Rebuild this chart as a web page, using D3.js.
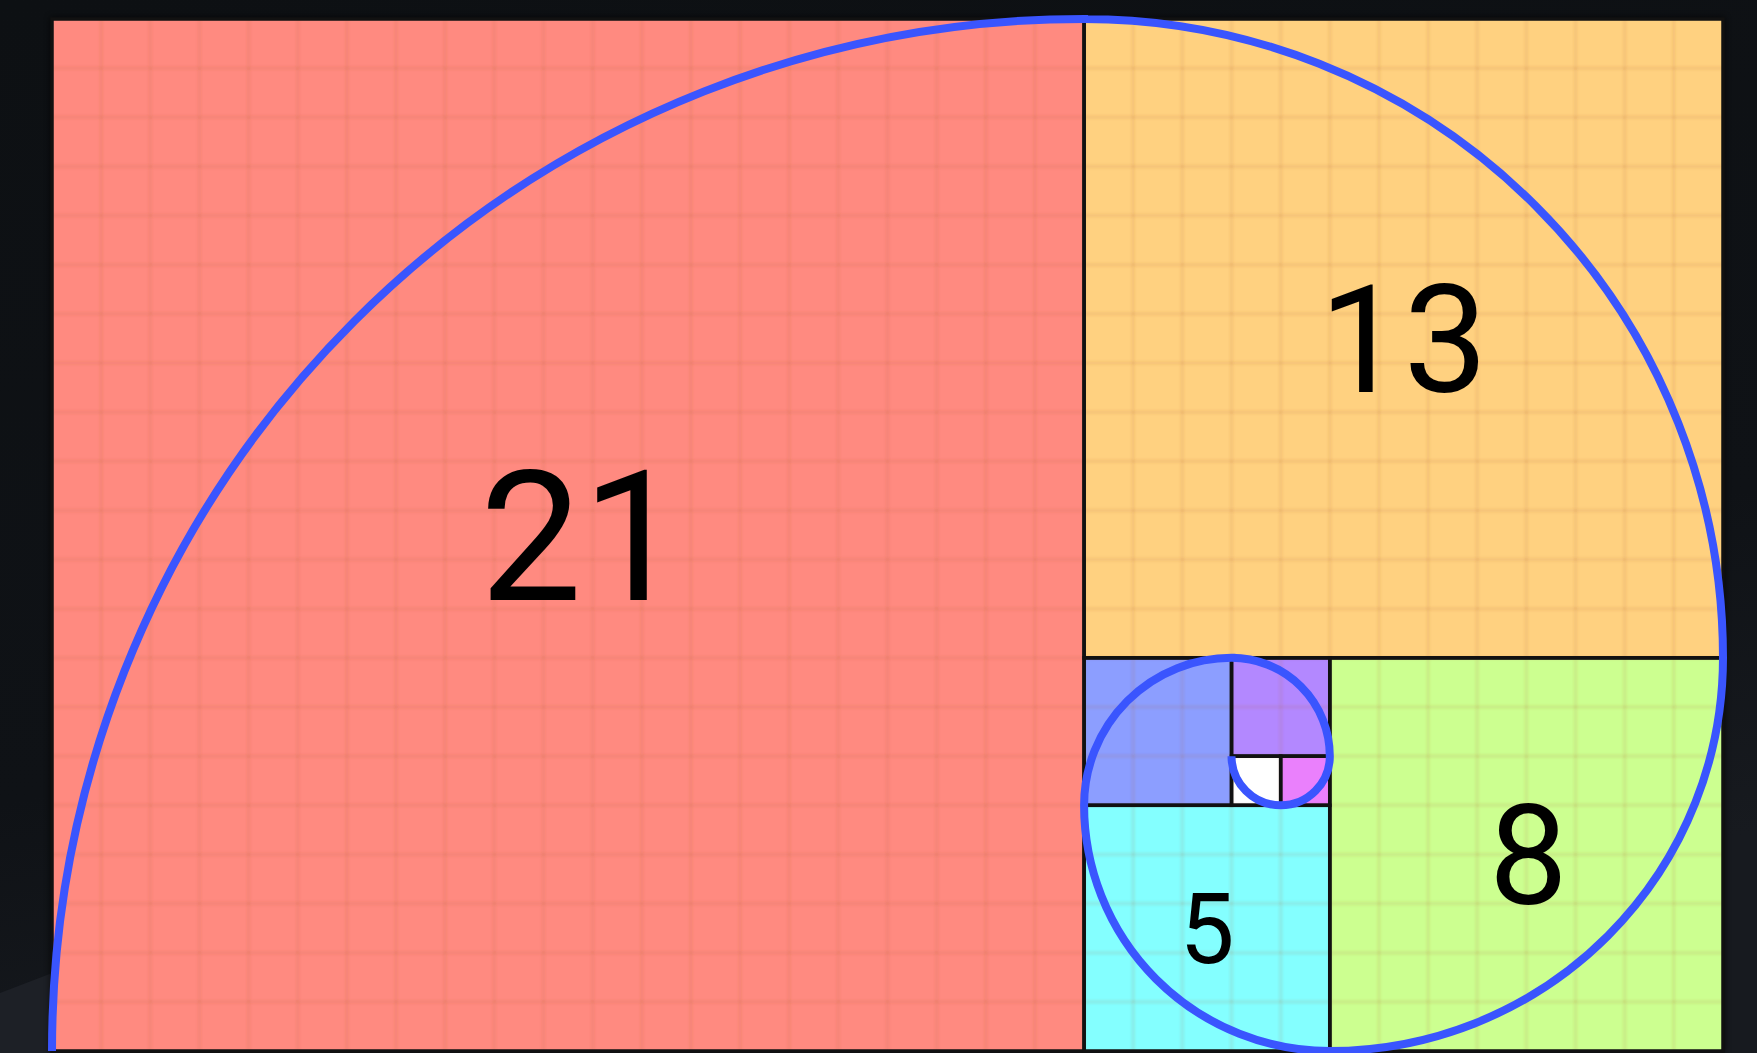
<!DOCTYPE html>
<html>
<head>
<meta charset="utf-8">
<script src="https://cdn.jsdelivr.net/npm/d3@7"></script>
<style>
  html, body { margin: 0; padding: 0; background: #0e1114; }
  svg { display: block; }
</style>
</head>
<body>
<svg id="chart" width="1757" height="1053"></svg>
<script>
// fibonacci squares, in grid units (34 x 21 rectangle)
const sizes = [21, 13, 8, 5, 3, 2, 1, 1]
const cols = [0, 21, 26, 21, 21, 24, 25, 24]
const rows = [0, 0, 13, 16, 13, 13, 15, 15]
const labels = ["21", "13", "8", "5", "", "", "", ""]
// which corner the spiral arc turns around
const arcCorner = ["br", "bl", "tl", "tr", "br", "bl", "tl", "tr"]

const fills = ["#ff8a80", "#ffd180", "#ccff90", "#84ffff", "#8c9eff", "#b388ff", "#ea80fc", "#ffffff"]
const labelSizes = [182, 150, 140, 98]
const labelDx = [14, 0, 2, 0]

const W = 1757, H = 1053

const svg = d3.select("#chart")

const x = d3.scaleLinear().domain([0, 34]).range([52, 1723])
const y = d3.scaleLinear().domain([0, 21]).range([19, 1051])
const u = x(1) - x(0)

// background with a faint lighter corner bottom-left
const defs = svg.append("defs")
const grad = defs.append("linearGradient").attr("id", "bgGrad")
    .attr("x1", 0).attr("y1", 0).attr("x2", 0.3).attr("y2", 1)
grad.append("stop").attr("offset", "0%").attr("stop-color", "#0d1013")
grad.append("stop").attr("offset", "70%").attr("stop-color", "#0f1216")
grad.append("stop").attr("offset", "100%").attr("stop-color", "#171a1f")
svg.append("rect").attr("width", W).attr("height", H).attr("fill", "url(#bgGrad)")
svg.append("path")
    .attr("d", "M0,993 L60,970 L60,1053 L0,1053 Z")
    .attr("fill", "#1d2026")

// soft shadow round the rectangle
const shadow = defs.append("filter").attr("id", "shadow")
    .attr("x", -0.05).attr("y", -0.05).attr("width", 1.1).attr("height", 1.1)
shadow.append("feGaussianBlur").attr("stdDeviation", 3)
svg.append("rect")
    .attr("x", x(0) - 2).attr("y", y(0) - 2)
    .attr("width", x(34) - x(0) + 4).attr("height", y(21) - y(0) + 4)
    .attr("fill", "#000").attr("opacity", 0.6)
    .attr("filter", "url(#shadow)")

const idx = d3.range(sizes.length)

// square fills
svg.append("g").attr("class", "fills")
    .selectAll("rect")
    .data(idx)
    .enter().append("rect")
    .attr("x", i => x(cols[i]))
    .attr("y", i => y(rows[i]))
    .attr("width", i => x(cols[i] + sizes[i]) - x(cols[i]))
    .attr("height", i => y(rows[i] + sizes[i]) - y(rows[i]))
    .attr("fill", i => fills[i])

// unit grid, slightly blurred
const blur = defs.append("filter").attr("id", "soft")
blur.append("feGaussianBlur").attr("stdDeviation", 0.8)
const grid = svg.append("g").attr("class", "grid")
    .attr("stroke", "rgba(175,95,40,0.11)")
    .attr("stroke-width", 3.5)
    .attr("filter", "url(#soft)")
grid.selectAll(".gx")
    .data(d3.range(1, 34))
    .enter().append("line")
    .attr("x1", d => x(d)).attr("x2", d => x(d))
    .attr("y1", y(0)).attr("y2", y(21))
grid.selectAll(".gy")
    .data(d3.range(1, 21))
    .enter().append("line")
    .attr("y1", d => y(d)).attr("y2", d => y(d))
    .attr("x1", x(0)).attr("x2", x(34))

// square borders
svg.append("g").attr("class", "borders")
    .selectAll("rect")
    .data(idx)
    .enter().append("rect")
    .attr("x", i => x(cols[i]))
    .attr("y", i => y(rows[i]))
    .attr("width", i => x(cols[i] + sizes[i]) - x(cols[i]))
    .attr("height", i => y(rows[i] + sizes[i]) - y(rows[i]))
    .attr("fill", "none")
    .attr("stroke", "#111")
    .attr("stroke-width", 3.5)

// spiral: one quarter arc per square
const startAngle = { br: Math.PI, bl: -Math.PI / 2, tl: 0, tr: Math.PI / 2 }
const p = d3.path()
idx.forEach(i => {
    const c = arcCorner[i]
    const cx = c[1] === "r" ? cols[i] + sizes[i] : cols[i]
    const cy = c[0] === "b" ? rows[i] + sizes[i] : rows[i]
    const a0 = startAngle[c]
    p.arc(x(cx), y(cy), sizes[i] * u, a0, a0 + Math.PI / 2)
})
svg.append("path")
    .attr("d", p.toString())
    .attr("fill", "none")
    .attr("stroke", "#3a55fe")
    .attr("stroke-width", 8)

// labels
svg.append("g").attr("class", "labels")
    .selectAll("text")
    .data(idx.filter(i => labels[i] !== ""))
    .enter().append("text")
    .attr("x", i => x(cols[i] + sizes[i] / 2) + labelDx[i])
    .attr("y", i => y(rows[i] + sizes[i] / 2) + labelSizes[i] * 0.355)
    .attr("text-anchor", "middle")
    .attr("font-family", "Roboto, sans-serif")
    .attr("font-size", i => labelSizes[i])
    .attr("fill", "#000")
    .text(i => labels[i])
</script>
</body>
</html>
